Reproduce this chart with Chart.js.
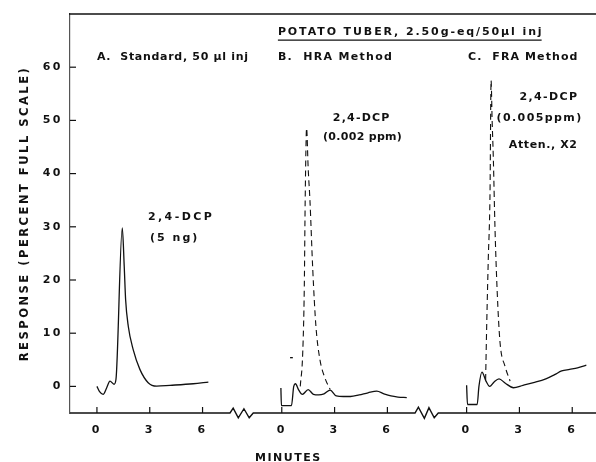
<!DOCTYPE html>
<html>
<head>
<meta charset="utf-8">
<script src="https://cdn.jsdelivr.net/npm/chart.js@4/dist/chart.umd.min.js"></script>
<style>
  html, body { margin:0; padding:0; background:#fff; }
</style>
</head>
<body>
<canvas id="chart" width="596" height="462"></canvas>
<script>
// minutes offset of each panel on the shared x axis
var panelOffset = [0, 10.5, 21];

// A. Standard, 50 ul inj
var aTime = [0, 0.15, 0.35, 0.55, 0.74, 0.97, 1.08, 1.44, 1.55, 1.63, 1.78, 2.06, 2.44, 2.91, 3.39, 4.15, 5.47, 6.33];
var aResp = [0, -1.0, -1.5, -0.3, 1.0, 0.4, 1.3, 29.8, 22.6, 16.3, 11.3, 6.9, 3.2, 0.7, 0.05, 0.2, 0.5, 0.8];

// B. HRA Method
var bTime = [-0.05, -0.02, 0.55, 0.68, 0.78, 0.95, 1.17, 1.5, 1.8, 2.1, 2.4, 2.75, 3.1, 3.5, 3.9, 4.4, 4.9, 5.4, 5.8, 6.2, 6.6, 7.1];
var bResp = [-0.3, -3.6, -3.6, 0.0, 0.5, -0.6, -1.5, -0.6, -1.5, -1.6, -1.4, -0.7, -1.8, -1.9, -1.9, -1.6, -1.2, -0.9, -1.4, -1.8, -2.0, -2.1];
var bPeakTime = [1.05, 1.19, 1.28, 1.33, 1.41, 1.5, 1.6, 1.76, 1.94, 2.17, 2.45, 2.75];
var bPeakResp = [0, 6.3, 18.8, 35, 48.5, 41, 35, 22, 11.3, 5, 1.6, -0.6];
var bMarkTime = [0.47, 0.63];
var bMarkResp = [5.4, 5.4];

// C. FRA Method
var cTime = [0, 0.05, 0.6, 0.7, 0.87, 1.1, 1.31, 1.55, 1.84, 2.2, 2.66, 3.2, 3.8, 4.5, 5.0, 5.4, 5.85, 6.3, 6.8];
var cResp = [0.2, -3.4, -3.4, 0, 2.7, 1.0, 0.0, 0.8, 1.4, 0.6, -0.25, 0.2, 0.7, 1.4, 2.2, 2.9, 3.2, 3.5, 4.0];
var cPeakTime = [1.08, 1.14, 1.23, 1.33, 1.39, 1.45, 1.52, 1.61, 1.74, 1.9, 2.18, 2.47];
var cPeakResp = [1.2, 11.3, 23.8, 36.4, 57.5, 50, 42.6, 30, 17.6, 8.2, 3.8, 1.0];

// broken time axis with the two zigzags
var baseTime = [-1.53, 7.56, 7.74, 8.03, 8.35, 8.65, 8.88, 18.07, 18.26, 18.6, 18.86, 19.16, 19.39, 28.35];
var baseResp = [-5, -5, -4.1, -5.9, -4.2, -5.9, -5, -5, -3.9, -6.0, -4.0, -5.9, -5, -5];

var xTickValues = [0, 3, 6, 10.5, 13.5, 16.5, 21, 24, 27];
var xTickLabels = ['0', '3', '6', '0', '3', '6', '0', '3', '6'];
var yTickValues = [0, 10, 20, 30, 40, 50, 60];

// text notes placed in chart units (minutes, response)
var notes = [
  {text: 'POTATO TUBER, 2.50g-eq/50\u00b5l inj', x: 10.28, y: 66.6, sp: 1.9, under: true},
  {text: 'A.  Standard, 50 \u00b5l inj', x: 0, y: 61.9, sp: 0.7},
  {text: 'B.  HRA Method', x: 10.28, y: 61.9, sp: 1.3},
  {text: 'C.  FRA Method', x: 21.08, y: 61.9, sp: 1.1},
  {text: '2,4-DCP', x: 2.9, y: 31.9, sp: 2.4},
  {text: '(5 ng)', x: 3.02, y: 27.8, sp: 2},
  {text: '2,4-DCP', x: 13.4, y: 50.4, sp: 1.2},
  {text: '(0.002 ppm)', x: 12.84, y: 46.9, sp: 0.3},
  {text: '2,4-DCP', x: 24.0, y: 54.4, sp: 1.4},
  {text: '(0.005ppm)', x: 22.7, y: 50.4, sp: 1.4},
  {text: 'Atten., X2', x: 23.4, y: 45.4, sp: 0.6},
  {text: 'MINUTES', x: 8.98, y: -13.4, sp: 1.5}
];

function pts(t, v, off) {
  return t.map(function(x, i) { return {x: x + off, y: v[i]}; });
}

function line(data, dash, width) {
  return {
    data: data,
    borderColor: '#111',
    borderWidth: width || 1.3,
    borderDash: dash || [],
    pointRadius: 0,
    fill: false,
    cubicInterpolationMode: 'monotone',
    clip: false
  };
}

var framePlugin = {
  id: 'frame',
  beforeDraw: function(chart) {
    chart.ctx.letterSpacing = '2.5px';
  },
  beforeDatasetsDraw: function(chart) {
    chart.ctx.letterSpacing = '0px';
  },
  afterDraw: function(chart) {
    var ctx = chart.ctx, a = chart.chartArea;
    var xs = chart.scales.x, ys = chart.scales.y;
    ctx.save();
    ctx.strokeStyle = '#111';
    ctx.lineWidth = 1.5;
    ctx.beginPath();
    ctx.moveTo(a.left - 1, a.top);
    ctx.lineTo(a.right, a.top);
    ctx.stroke();
    ctx.lineWidth = 1.2;
    yTickValues.forEach(function(v) {
      var py = ys.getPixelForValue(v);
      ctx.beginPath();
      ctx.moveTo(a.left, py);
      ctx.lineTo(a.left + 6, py);
      ctx.stroke();
    });
    var by = ys.getPixelForValue(-5);
    xTickValues.forEach(function(v) {
      var px = xs.getPixelForValue(v);
      ctx.beginPath();
      ctx.moveTo(px, by);
      ctx.lineTo(px, by - 6);
      ctx.stroke();
    });
    ctx.fillStyle = '#111';
    ctx.font = 'bold 11px "DejaVu Sans"';
    ctx.textBaseline = 'middle';
    ctx.textAlign = 'left';
    notes.forEach(function(n) {
      ctx.letterSpacing = n.sp + 'px';
      var px = xs.getPixelForValue(n.x), py = ys.getPixelForValue(n.y);
      ctx.fillText(n.text, px, py);
      if (n.under) {
        var w = ctx.measureText(n.text).width - n.sp;
        ctx.beginPath();
        ctx.moveTo(px, py + 8);
        ctx.lineTo(px + w, py + 8);
        ctx.stroke();
      }
    });
    ctx.restore();
  }
};

var ctx = document.getElementById('chart');
window.myChart = new Chart(ctx, {
  type: 'line',
  data: {
    datasets: [
      line(pts(aTime, aResp, panelOffset[0])),
      line(pts(bTime, bResp, panelOffset[1])),
      line(pts(bPeakTime, bPeakResp, panelOffset[1]), [6, 4], 1.1),
      line(pts(bMarkTime, bMarkResp, panelOffset[1])),
      line(pts(cTime, cResp, panelOffset[2])),
      line(pts(cPeakTime, cPeakResp, panelOffset[2]), [6, 4], 1.1),
      Object.assign(line(pts(baseTime, baseResp, 0), [], 1.4), {cubicInterpolationMode: 'default', tension: 0})
    ]
  },
  options: {
    responsive: false,
    animation: false,
    layout: { padding: { top: 14, right: 0, left: 0, bottom: 0 } },
    plugins: { legend: { display: false }, tooltip: { enabled: false } },
    scales: {
      x: {
        type: 'linear',
        min: -1.53,
        max: 28.35,
        grid: { display: false, drawTicks: false },
        border: { display: false },
        afterBuildTicks: function(s) { s.ticks = xTickValues.map(function(v) { return {value: v}; }); },
        afterFit: function(s) { s.height = 49; },
        ticks: {
          autoSkip: false,
          maxRotation: 0,
          padding: 11,
          color: '#111',
          font: { family: 'DejaVu Sans', size: 11, weight: 'bold' },
          callback: function(v, i) { return xTickLabels[i]; }
        }
      },
      y: {
        min: -5,
        max: 70,
        grid: { display: false, drawTicks: false },
        border: { display: true, color: '#555', width: 1.2 },
        afterBuildTicks: function(s) { s.ticks = yTickValues.map(function(v) { return {value: v}; }); },
        afterFit: function(s) { s.width = 70; },
        ticks: {
          padding: 7,
          color: '#111',
          font: { family: 'DejaVu Sans', size: 11, weight: 'bold' }
        },
        title: {
          display: true,
          text: 'RESPONSE (PERCENT FULL SCALE)',
          color: '#111',
          font: { family: 'DejaVu Sans', size: 11.5, weight: 'bold' },
          padding: { top: 18, bottom: 0 }
        }
      }
    }
  },
  plugins: [framePlugin]
});
</script>
</body>
</html>
